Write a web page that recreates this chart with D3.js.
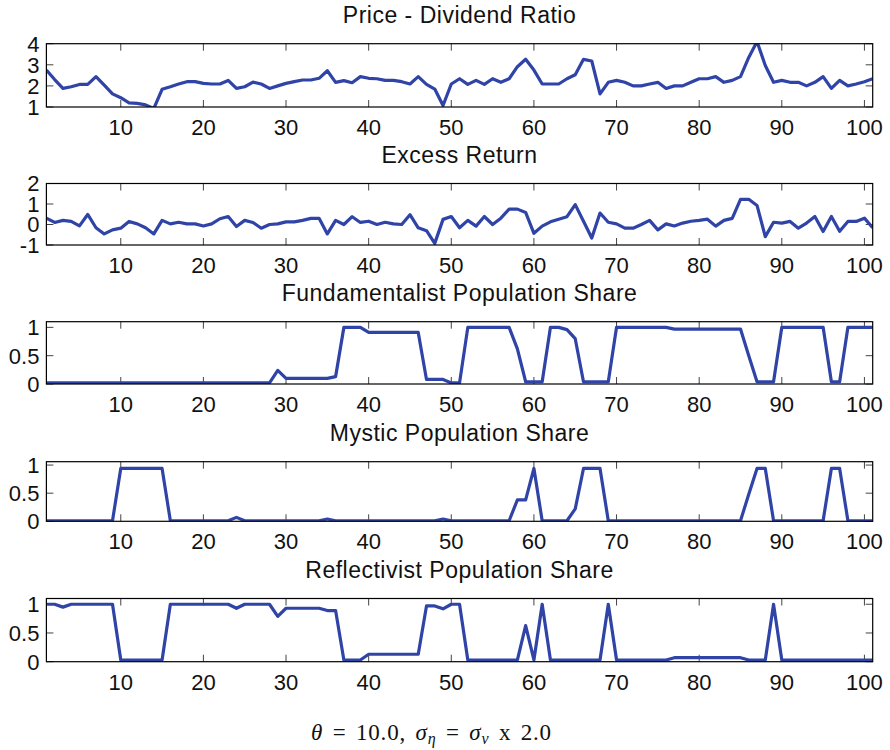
<!DOCTYPE html>
<html>
<head>
<meta charset="utf-8">
<script src="https://cdn.jsdelivr.net/npm/d3@7"></script>
<style>
  body { margin: 0; background: #fff; }
  svg text { font-family: "Liberation Sans", Arial, sans-serif; fill: #111; }
</style>
</head>
<body>
<svg id="chart" width="890" height="750"></svg>
<script>
// periods 1..101
var periods = d3.range(1, 102);

var xTicks = [10, 20, 30, 40, 50, 60, 70, 80, 90, 100];

var priceDividend = [
  2.75, 2.30, 1.88, 1.96, 2.07, 2.07, 2.44, 2.04, 1.62, 1.44,
  1.20, 1.17, 1.10, 0.93, 1.84, 1.96, 2.09, 2.20, 2.20, 2.12,
  2.09, 2.09, 2.26, 1.88, 1.96, 2.18, 2.09, 1.88, 2.00, 2.12,
  2.20, 2.28, 2.28, 2.36, 2.72, 2.17, 2.25, 2.15, 2.44, 2.36,
  2.34, 2.26, 2.26, 2.20, 2.09, 2.44, 2.07, 1.85, 1.07, 2.09,
  2.34, 2.07, 2.26, 2.07, 2.34, 2.17, 2.34, 2.91, 3.26, 2.75,
  2.09, 2.09, 2.09, 2.34, 2.53, 3.26, 3.18, 1.62, 2.17, 2.26,
  2.17, 2.00, 2.00, 2.09, 2.17, 1.88, 2.00, 2.00, 2.17, 2.34,
  2.34, 2.44, 2.17, 2.26, 2.44, 3.35, 4.10, 2.97, 2.17, 2.26,
  2.17, 2.17, 2.00, 2.17, 2.44, 1.88, 2.26, 2.00, 2.09, 2.20,
  2.34
];

var excessReturn = [
  0.31, 0.10, 0.20, 0.15, -0.07, 0.49, -0.16, -0.46, -0.26, -0.18,
  0.15, 0.03, -0.16, -0.46, 0.20, 0.03, 0.11, 0.03, 0.03, -0.07,
  0.03, 0.28, 0.39, -0.10, 0.20, 0.10, -0.18, 0.00, 0.03, 0.13,
  0.13, 0.20, 0.30, 0.30, -0.46, 0.20, 0.00, 0.38, 0.10, 0.16,
  0.00, 0.11, 0.03, 0.00, 0.48, -0.16, -0.30, -0.92, 0.25, 0.39,
  -0.16, 0.20, -0.08, 0.39, 0.00, 0.31, 0.75, 0.75, 0.59, -0.43,
  -0.08, 0.13, 0.26, 0.38, 0.97, 0.16, -0.66, 0.56, 0.11, 0.03,
  -0.18, -0.18, 0.00, 0.20, -0.26, 0.03, -0.07, 0.07, 0.16, 0.20,
  0.26, -0.08, 0.20, 0.30, 1.23, 1.23, 0.93, -0.59, 0.11, 0.07,
  0.15, -0.18, 0.07, 0.39, -0.34, 0.39, -0.33, 0.15, 0.15, 0.31,
  -0.16
];

var fundamentalist = [
  0.02, 0.02, 0.02, 0.02, 0.02, 0.02, 0.02, 0.02, 0.02, 0.02,
  0.02, 0.02, 0.02, 0.02, 0.02, 0.02, 0.02, 0.02, 0.02, 0.02,
  0.02, 0.02, 0.02, 0.02, 0.02, 0.02, 0.02, 0.02, 0.24, 0.10,
  0.10, 0.10, 0.10, 0.10, 0.10, 0.13, 1.00, 1.00, 1.00, 0.91,
  0.91, 0.91, 0.91, 0.91, 0.91, 0.91, 0.08, 0.08, 0.08, 0.02,
  0.02, 1.00, 1.00, 1.00, 1.00, 1.00, 1.00, 0.62, 0.04, 0.04,
  0.04, 1.00, 1.00, 0.96, 0.80, 0.04, 0.04, 0.04, 0.04, 1.00,
  1.00, 1.00, 1.00, 1.00, 1.00, 1.00, 0.97, 0.97, 0.97, 0.97,
  0.97, 0.97, 0.97, 0.97, 0.97, 0.50, 0.04, 0.04, 0.04, 1.00,
  1.00, 1.00, 1.00, 1.00, 1.00, 0.04, 0.04, 1.00, 1.00, 1.00,
  1.00
];

var mystic = [
  0.01, 0.01, 0.01, 0.01, 0.01, 0.01, 0.01, 0.01, 0.01, 0.94,
  0.94, 0.94, 0.94, 0.94, 0.94, 0.01, 0.01, 0.01, 0.01, 0.01,
  0.01, 0.01, 0.01, 0.07, 0.01, 0.01, 0.01, 0.01, 0.01, 0.01,
  0.01, 0.01, 0.01, 0.01, 0.04, 0.01, 0.01, 0.01, 0.01, 0.01,
  0.01, 0.01, 0.01, 0.01, 0.01, 0.01, 0.01, 0.01, 0.04, 0.01,
  0.01, 0.01, 0.01, 0.01, 0.01, 0.01, 0.01, 0.38, 0.38, 0.94,
  0.01, 0.01, 0.01, 0.01, 0.22, 0.94, 0.94, 0.94, 0.01, 0.01,
  0.01, 0.01, 0.01, 0.01, 0.01, 0.01, 0.01, 0.01, 0.01, 0.01,
  0.01, 0.01, 0.01, 0.01, 0.01, 0.48, 0.94, 0.94, 0.01, 0.01,
  0.01, 0.01, 0.01, 0.01, 0.01, 0.94, 0.94, 0.01, 0.01, 0.01,
  0.01
];

var reflectivist = [
  1.00, 1.00, 0.95, 1.00, 1.00, 1.00, 1.00, 1.00, 1.00, 0.03,
  0.03, 0.03, 0.03, 0.03, 0.03, 1.00, 1.00, 1.00, 1.00, 1.00,
  1.00, 1.00, 1.00, 0.93, 1.00, 1.00, 1.00, 1.00, 0.79, 0.93,
  0.93, 0.93, 0.93, 0.93, 0.89, 0.89, 0.03, 0.03, 0.03, 0.13,
  0.13, 0.13, 0.13, 0.13, 0.13, 0.13, 0.97, 0.97, 0.92, 1.00,
  1.00, 0.03, 0.03, 0.03, 0.03, 0.03, 0.03, 0.03, 0.63, 0.03,
  1.00, 0.03, 0.03, 0.03, 0.03, 0.03, 0.03, 0.03, 1.00, 0.03,
  0.03, 0.03, 0.03, 0.03, 0.03, 0.03, 0.07, 0.07, 0.07, 0.07,
  0.07, 0.07, 0.07, 0.07, 0.07, 0.03, 0.03, 0.03, 1.00, 0.03,
  0.03, 0.03, 0.03, 0.03, 0.03, 0.03, 0.03, 0.03, 0.03, 0.03,
  0.03
];

var panels = [
  { title: "Price - Dividend Ratio", values: priceDividend, domain: [1, 4], ticks: [1, 2, 3, 4], top: 43.7, bottom: 107 },
  { title: "Excess Return", values: excessReturn, domain: [-1, 2], ticks: [-1, 0, 1, 2], top: 183.5, bottom: 245 },
  { title: "Fundamentalist Population Share", values: fundamentalist, domain: [0, 1.1], ticks: [0, 0.5, 1], top: 321.7, bottom: 384 },
  { title: "Mystic Population Share", values: mystic, domain: [0, 1.06], ticks: [0, 0.5, 1], top: 461.7, bottom: 521.3 },
  { title: "Reflectivist Population Share", values: reflectivist, domain: [0, 1.1], ticks: [0, 0.5, 1], top: 598.5, bottom: 661.7 }
];

var left = 46.4, right = 872.7, tickLen = 7;
var lineColor = "#2f44a6";

var svg = d3.select("#chart");

var x = d3.scaleLinear().domain([1, 101]).range([left, right]);

panels.forEach(function (p, i) {
  var y = d3.scaleLinear().domain(p.domain).range([p.bottom, p.top]);
  var g = svg.append("g");

  g.append("clipPath")
    .attr("id", "clip" + i)
    .append("rect")
    .attr("x", left).attr("y", p.top)
    .attr("width", right - left).attr("height", p.bottom - p.top);

  // tick marks inside the box, top+bottom and left+right
  g.selectAll(".xt").data(xTicks).enter().append("path")
    .attr("d", function (d) {
      var px = x(d);
      return "M" + px + "," + p.bottom + "v" + (-tickLen) + "M" + px + "," + p.top + "v" + tickLen;
    })
    .attr("stroke", "#444").attr("stroke-width", 1);

  g.selectAll(".yt").data(p.ticks).enter().append("path")
    .attr("d", function (d) {
      var py = y(d);
      return "M" + left + "," + py + "h" + tickLen + "M" + right + "," + py + "h" + (-tickLen);
    })
    .attr("stroke", "#444").attr("stroke-width", 1);

  var line = d3.line()
    .x(function (d, j) { return x(periods[j]); })
    .y(function (d) { return y(d); });

  g.append("path")
    .datum(p.values)
    .attr("clip-path", "url(#clip" + i + ")")
    .attr("d", line)
    .attr("fill", "none")
    .attr("stroke", lineColor)
    .attr("stroke-width", 3.2)
    .attr("stroke-linejoin", "round");

  g.append("rect")
    .attr("x", left).attr("y", p.top)
    .attr("width", right - left).attr("height", p.bottom - p.top)
    .attr("fill", "none").attr("stroke", "#000").attr("stroke-width", 1.2);

  // labels
  g.selectAll(".xl").data(xTicks).enter().append("text")
    .attr("x", function (d) { return x(d); })
    .attr("y", p.bottom + 28)
    .attr("text-anchor", "middle")
    .style("font-size", "22px")
    .text(function (d) { return d; });

  g.selectAll(".yl").data(p.ticks).enter().append("text")
    .attr("x", left - 7)
    .attr("y", function (d) { return y(d); })
    .attr("dy", "0.36em")
    .attr("text-anchor", "end")
    .style("font-size", "22px")
    .text(function (d) { return d; });

  g.append("text")
    .attr("x", (left + right) / 2)
    .attr("y", p.top - 21)
    .attr("text-anchor", "middle")
    .style("font-size", "23px")
    .style("letter-spacing", "0.5px")
    .text(p.title);
});

// parameter caption
var cap = svg.append("text")
  .attr("x", 311).attr("y", 740)
  .style("font-family", "'Liberation Serif', 'DejaVu Serif', serif")
  .style("font-size", "23px")
  .style("letter-spacing", "0.8px")
  .style("word-spacing", "3px");
cap.append("tspan").style("font-style", "italic").text("θ");
cap.append("tspan").text(" = 10.0, ");
cap.append("tspan").style("font-style", "italic").text("σ");
cap.append("tspan").attr("dy", 4).style("font-size", "16px").style("font-style", "italic").text("η");
cap.append("tspan").attr("dy", -4).text(" = ");
cap.append("tspan").style("font-style", "italic").text("σ");
cap.append("tspan").attr("dy", 4).style("font-size", "16px").style("font-style", "italic").text("v");
cap.append("tspan").attr("dy", -4).text(" x 2.0");
</script>
</body>
</html>
